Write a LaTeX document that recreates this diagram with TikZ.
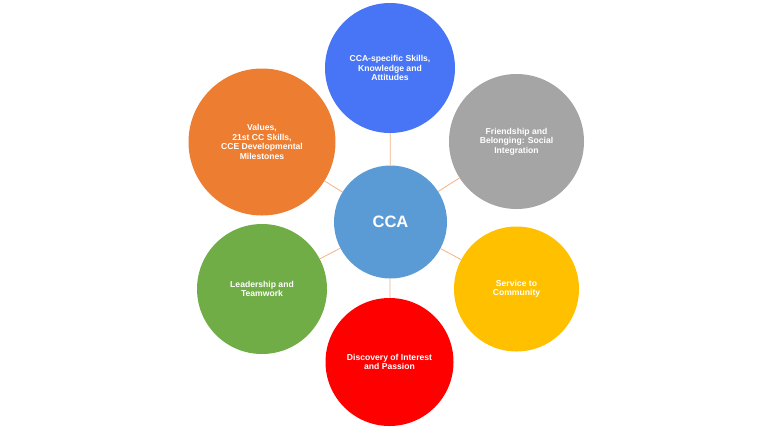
\documentclass[tikz,border=0pt]{standalone}
\usepackage{fontspec}
\setmainfont{Liberation Sans}
\definecolor{cblue}{HTML}{4775F5}
\definecolor{cgray}{HTML}{A5A5A5}
\definecolor{corange}{HTML}{ED7D31}
\definecolor{cgreen}{HTML}{70AD47}
\definecolor{cyellow}{HTML}{FFC000}
\definecolor{cred}{HTML}{FF0000}
\definecolor{ccca}{HTML}{5B9BD5}
\definecolor{cline}{HTML}{F4B183}
\begin{document}
\begin{tikzpicture}[x=1pt,y=-1pt,
  bubble/.style={circle,inner sep=0pt,text=white,font=\fontsize{8.6}{9.4}\selectfont\bfseries,align=center},
  link/.style={draw=cline,line width=0.8pt}]
\useasboundingbox (0,0) rectangle (768,432);
\node[bubble,fill=ccca,minimum size=113pt,font=\fontsize{16.5}{20}\selectfont\bfseries] (cca) at (390.5,222) {CCA};
\node[bubble,fill=cblue,minimum size=130pt] (skills) at (390,68) {CCA-specific Skills,\\Knowledge and\\Attitudes};
\node[bubble,fill=cgray,minimum size=135pt] (friend) at (516.5,141.5) {Friendship and\\Belonging: Social\\Integration};
\node[bubble,fill=cyellow,minimum size=125pt] (service) at (516.5,289) {Service to\\Community};
\node[bubble,fill=cred,minimum size=128pt] (disc) at (389.5,362) {Discovery of Interest\\and Passion};
\node[bubble,fill=cgreen,minimum size=130pt] (lead) at (262,289) {Leadership and\\Teamwork};
\node[bubble,fill=corange,minimum size=147pt] (values) at (262,142) {Values,\\21st CC Skills,\\CCE Developmental\\Milestones};
\foreach \t in {skills,friend,service,disc,lead,values}{
  \path[link] (cca) -- (\t);
}
\end{tikzpicture}
\end{document}
